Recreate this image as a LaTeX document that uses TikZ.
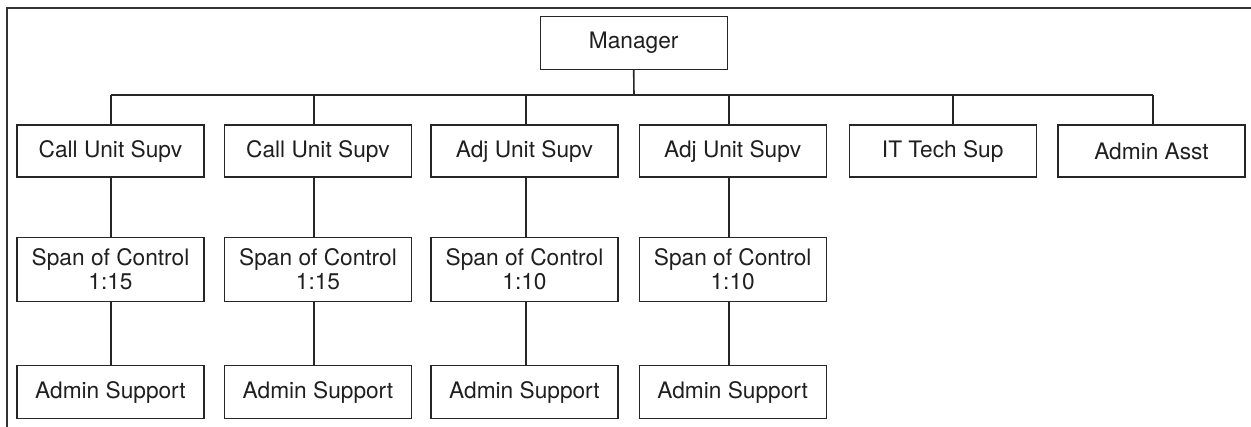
\documentclass[tikz,border=0pt]{standalone}
\usepackage{fontspec}
\setmainfont{TeX Gyre Heros}
\begin{document}
\begin{tikzpicture}[x=1pt,y=-1pt,
  box/.style={draw=black!85, line width=1.4pt, minimum width=187pt, inner sep=0pt,
    align=center, text=black!88, font=\fontsize{22.7}{24}\selectfont},
  onerow/.style={box, minimum height=52pt},
  tworow/.style={box, minimum height=64.4pt},
  link/.style={draw=black!85, line width=1.6pt},
  frame/.style={draw=black!80, line width=1.8pt}]
\useasboundingbox (0,0) rectangle (1251,426);

% outer frame (top and left edges only)
\draw[frame] (1252,8.3) -- (7.3,8.3) -- (7.3,427);

% top of the chart
\node[onerow, minimum height=53pt] (mgr) at (633.7,42.7) {Manager};

% first level
\node[onerow] (t1) at (110.5,151) {Call Unit Supv};
\node[onerow] (t2) at (318,151)   {Call Unit Supv};
\node[onerow] (t3) at (524.5,151) {Adj Unit Supv};
\node[onerow] (t4) at (732.7,151) {Adj Unit Supv};
\node[onerow] (t5) at (942.7,151) {IT Tech Sup};
\node[onerow] (t6) at (1151.5,151) {Admin Asst};

% span of control
\node[tworow] (s1) at (110.5,269.5) {Span of Control\\1:15};
\node[tworow] (s2) at (318,269.5)   {Span of Control\\1:15};
\node[tworow] (s3) at (524.5,269.5) {Span of Control\\1:10};
\node[tworow] (s4) at (732.7,269.5) {Span of Control\\1:10};

% admin support
\node[onerow, minimum height=52.6pt] (a1) at (110.5,392) {Admin Support};
\node[onerow, minimum height=52.6pt] (a2) at (318,392)   {Admin Support};
\node[onerow, minimum height=52.6pt] (a3) at (524.5,392) {Admin Support};
\node[onerow, minimum height=52.6pt] (a4) at (732.7,392) {Admin Support};

% bus from the manager to the first level
\coordinate (bus) at (634,95);
\draw[link] (mgr.south) -- (bus);
\draw[link] ([xshift=0.5pt]t1.north |- bus) -- ([xshift=1.5pt]t6.north |- bus);
\foreach \n/\dx in {1/0.5, 2/-4, 3/1.5, 4/-3.5, 5/10, 6/1.5} {
  \draw[link] ([xshift=\dx pt]t\n.north) -- ([xshift=\dx pt]t\n.north |- bus);
}

% vertical chains below the supervisors
\foreach \n/\dx in {1/0.5, 2/-4, 3/1.5, 4/-3.5} {
  \draw[link] ([xshift=\dx pt]t\n.south) -- ([xshift=\dx pt]s\n.north);
  \draw[link] ([xshift=\dx pt]s\n.south) -- ([xshift=\dx pt]a\n.north);
}
\end{tikzpicture}
\end{document}
